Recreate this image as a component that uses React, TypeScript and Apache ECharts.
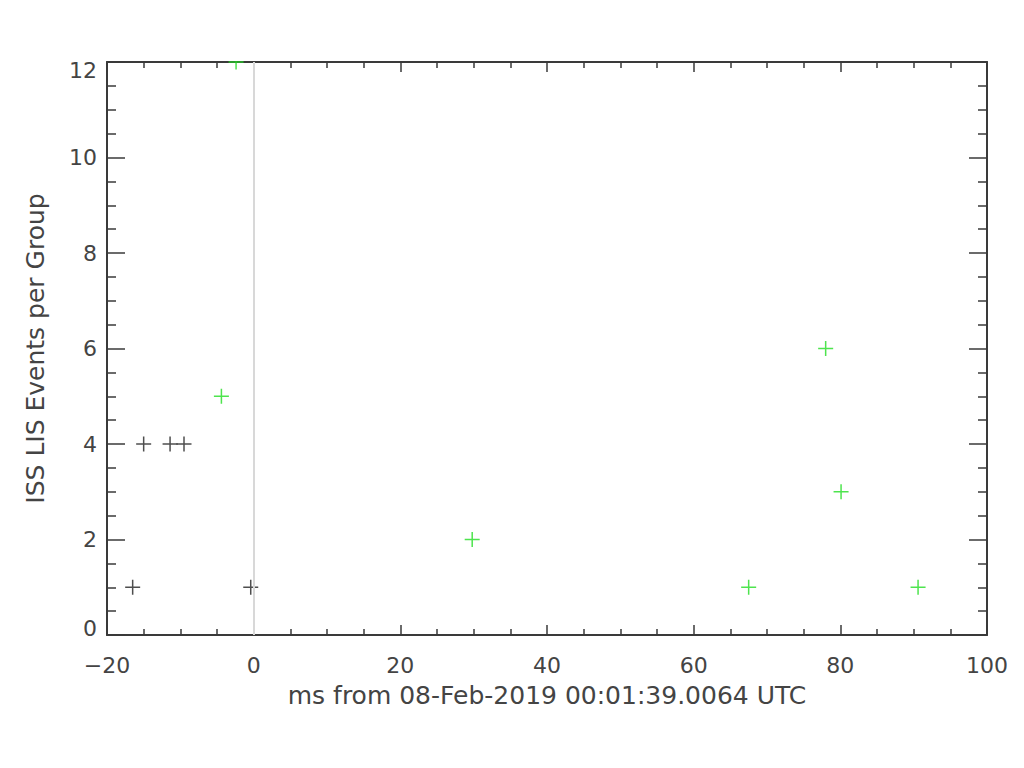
import React, { useEffect, useRef } from "react";
import * as echarts from "echarts";

const blackX = [-16.5, -15.0, -11.4, -9.5, -0.4];
const blackY = [1, 4, 4, 4, 1];
const greenX = [-4.4, -2.4, 29.8, 67.5, 78.0, 80.1, 90.6];
const greenY = [5, 12, 2, 1, 6, 3, 1];
const xTicks = [-20, 0, 20, 40, 60, 80, 100];
const yTicks = [0, 2, 4, 6, 8, 10, 12];
const xTitle = "ms from 08-Feb-2019 00:01:39.0064 UTC";
const yTitle = "ISS LIS Events per Group";

const PLUS =
  "path://M6.75 0 H8.25 V6.75 H15 V8.25 H8.25 V15 H6.75 V8.25 H0 V6.75 H6.75 Z";

export default function App() {
  const ref = useRef<HTMLDivElement>(null);
  useEffect(() => {
    if (!ref.current) return;
    const chart = echarts.init(ref.current, undefined, { renderer: "svg" });
    const font = "DejaVu Sans";
    const axisColor = "#3a3a3a";
    const textColor = "#444";
    const xMin = xTicks[0];
    const xMax = xTicks[xTicks.length - 1];
    const yMin = yTicks[0];
    const yMax = yTicks[yTicks.length - 1];
    const xBase = {
      type: "value" as const,
      min: xMin,
      max: xMax,
      interval: 20,
      splitLine: { show: false },
      axisLine: { show: true, onZero: false, lineStyle: { color: axisColor, width: 2 } },
      axisTick: { show: true, inside: true, length: 10, lineStyle: { color: axisColor, width: 1.5 } },
      minorTick: { show: true, splitNumber: 4, length: 6, lineStyle: { color: axisColor, width: 1.5 } },
    };
    const yBase = {
      type: "value" as const,
      min: yMin,
      max: yMax,
      interval: 2,
      splitLine: { show: false },
      axisLine: { show: true, onZero: false, lineStyle: { color: axisColor, width: 2 } },
      axisTick: { show: true, inside: true, length: 18, lineStyle: { color: axisColor, width: 1.5 } },
      minorTick: { show: true, splitNumber: 4, length: 9, lineStyle: { color: axisColor, width: 1.5 } },
    };
    chart.setOption({
      animation: false,
      backgroundColor: "#ffffff",
      grid: { left: 107, top: 62, right: 37, bottom: 133 },
      graphic: [
        {
          type: "rect",
          z: 100,
          silent: true,
          shape: { x: 100, y: 0, width: 900, height: 61 },
          style: { fill: "#ffffff" },
        },
      ],
      xAxis: [
        {
          ...xBase,
          position: "bottom",
          name: xTitle,
          nameLocation: "middle",
          nameGap: 48,
          nameTextStyle: { color: textColor, fontFamily: font, fontSize: 25 },
          axisLabel: {
            color: textColor,
            fontFamily: font,
            fontSize: 22,
            margin: 19,
            formatter: (v: number) => (v < 0 ? "\u2212" + Math.abs(v) : String(v)),
          },
        },
        { ...xBase, position: "top", axisLabel: { show: false } },
      ],
      yAxis: [
        {
          ...yBase,
          position: "left",
          name: yTitle,
          nameLocation: "middle",
          nameGap: 59,
          nameTextStyle: { color: textColor, fontFamily: font, fontSize: 25 },
          axisLabel: {
            color: textColor,
            fontFamily: font,
            fontSize: 22,
            margin: 10,
            formatter: (v: number) =>
              v === yMin ? "{lo|" + v + "}" : v === yMax ? "{hi|" + v + "}" : String(v),
            rich: {
              lo: { color: textColor, fontFamily: font, fontSize: 22, padding: [0, 0, 14, 0] },
              hi: { color: textColor, fontFamily: font, fontSize: 22, padding: [16, 0, 0, 0] },
            },
          },
        },
        { ...yBase, position: "right", axisLabel: { show: false } },
      ],
      series: [
        {
          type: "scatter",
          xAxisIndex: 0,
          yAxisIndex: 0,
          data: [],
          silent: true,
          markLine: {
            silent: true,
            symbol: ["none", "none"],
            label: { show: false },
            lineStyle: { color: "#d8d8d8", width: 2, type: "solid" },
            data: [{ xAxis: 0 }],
          },
        },
        {
          type: "scatter",
          xAxisIndex: 0,
          yAxisIndex: 0,
          symbol: PLUS,
          symbolSize: 15,
          itemStyle: { color: "#222222" },
          data: blackX.map((x, i) => [x, blackY[i]]),
        },
        {
          type: "scatter",
          xAxisIndex: 0,
          yAxisIndex: 0,
          symbol: PLUS,
          symbolSize: 15,
          itemStyle: { color: "#22dd22" },
          data: greenX.map((x, i) => [x, greenY[i]]),
        },
      ],
    });
    return () => chart.dispose();
  }, []);
  return (
    <div
      ref={ref}
      style={{ position: "fixed", left: 0, top: 0, width: 1024, height: 768, background: "#fff" }}
    />
  );
}
